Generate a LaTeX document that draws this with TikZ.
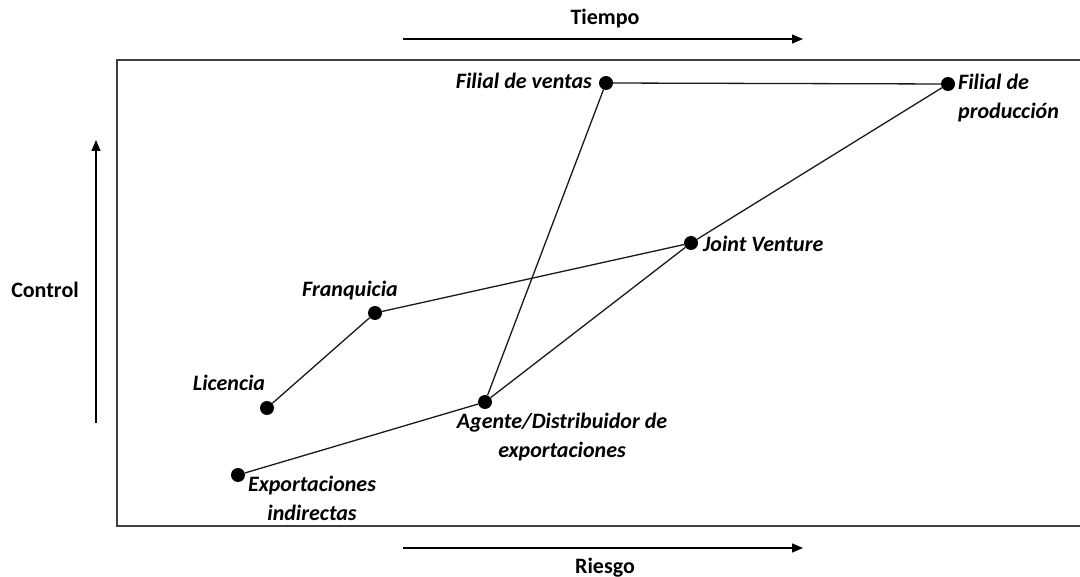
\documentclass[tikz,border=0pt]{standalone}
\usepackage{fontspec}
\setmainfont{Carlito}
\usepackage{tikz}
\usetikzlibrary{arrows.meta}

\tikzset{
    punto/.style={circle, fill=black, inner sep=0pt, minimum size=14pt},
    etiqueta/.style={font=\fontsize{22}{29}\selectfont\bfseries\itshape, inner sep=0pt},
    eje/.style={font=\fontsize{22}{26}\selectfont\bfseries, inner sep=0pt},
    flecha/.style={line width=1.3pt, -{Triangle[length=11pt,width=9pt]}},
    enlace/.style={line width=1.3pt, draw=black!90}
}

\begin{document}
\begin{tikzpicture}[x=1pt, y=-1pt]
        \clip (0,0) rectangle (1080,577);
        \useasboundingbox (0,0) rectangle (1080,577);
        % Marco:
        \draw [line width=2pt, draw=black!75] (117,60) rectangle (1090,526);

        % Ejes:
        % Flechas fuera del marco con su nombre
        \begin{scope}
        \coordinate (t0) at (403,39);  \coordinate (t1) at (803,39);
        \coordinate (r0) at (403,548); \coordinate (r1) at (803,548);
        \coordinate (c0) at (96,423);  \coordinate (c1) at (96,140);
        \draw [flecha] (t0) -- (t1);
        \draw [flecha] (r0) -- (r1);
        \draw [flecha] (c0) -- (c1);
        \node [eje, anchor=base] (tiempo)  at (605,25)  {Tiempo};
        \node [eje, anchor=base] (riesgo)  at (605,573) {Riesgo};
        \node [eje, anchor=base] (control) at (45,298)  {Control};
        \end{scope}

        % Puntos:
        \node [punto] (licencia)   at (267,408) {};
        \node [punto] (franquicia) at (375,313) {};
        \node [punto] (expind)     at (238,475) {};
        \node [punto] (agente)     at (485,402) {};
        \node [punto] (joint)      at (691,243) {};
        \node [punto] (fventas)    at (606,83)  {};
        \node [punto] (fprod)      at (948,84)  {};

        % Enlaces:
        \foreach \a/\b in {licencia/franquicia, franquicia/joint, expind/agente,
                           agente/fventas, agente/joint, joint/fprod, fventas/fprod}{%
            \draw [enlace] (\a) -- (\b);
        }

        % Nombres de los puntos:
        \node [etiqueta, anchor=base] (lblic)  at (229,391) {Licencia};
        \node [etiqueta, anchor=base] (lbfran) at (350,297) {Franquicia};
        \node [etiqueta, anchor=base west]  (lbjoint) at (703,252) {Joint Venture};
        \node [etiqueta, anchor=base east]  (lbfv)   at (592,89)  {Filial de ventas};
        \node [etiqueta, anchor=north west, align=left] (lbfp) at (958,74) {Filial de\\producción};
        \node [etiqueta, anchor=north, align=center] (lbag) at (562,413) {Agente/Distribuidor de\\exportaciones};
        \node [etiqueta, anchor=north, align=center] (lbexp) at (312,476) {Exportaciones\\indirectas};
    \end{tikzpicture}
\end{document}
